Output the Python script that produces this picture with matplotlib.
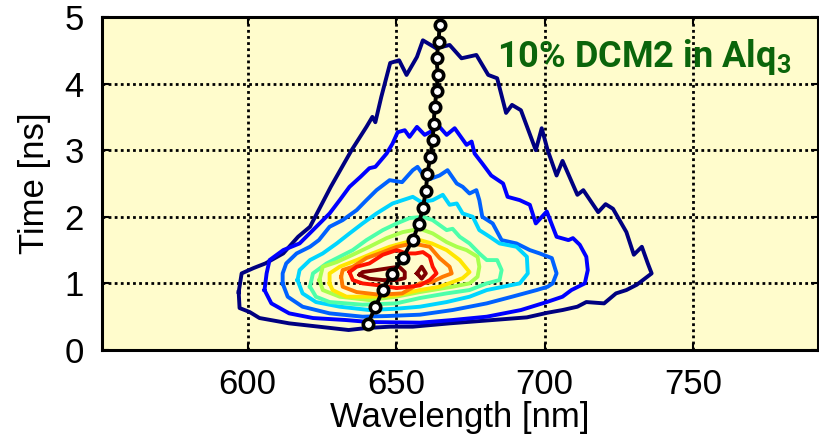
import numpy as np
import matplotlib
matplotlib.use("Agg")
import matplotlib.pyplot as plt

# contour outlines: (wavelength nm, time ns), outer -> inner
c_navy = [(597, 0.87), (598, 1.15), (602, 1.23), (606, 1.30), (612, 1.45), (617, 1.70),
          (621, 1.85), (628, 2.45), (635, 3.00), (640, 3.35), (642, 3.50), (643, 3.42),
          (645, 3.80), (648, 4.31), (651, 4.35), (653.5, 4.13), (657, 4.40), (659, 4.65),
          (663.5, 4.53), (668, 4.58), (672, 4.38), (677, 4.43), (681, 4.13), (684, 4.08),
          (687, 3.56), (689, 3.68), (692, 3.60), (697, 3.00), (699, 3.33), (701, 3.00),
          (704, 2.62), (706, 2.84), (711, 2.33), (713, 2.40), (718, 2.07), (720.5, 2.19),
          (723, 2.12), (727.5, 1.77), (730, 1.43), (732.7, 1.55), (734.7, 1.30), (736, 1.15),
          (731, 0.98), (727.5, 0.90), (724, 0.85), (720, 0.70), (714, 0.72), (711, 0.65),
          (706, 0.60), (701, 0.56), (694, 0.49), (682.5, 0.45), (668, 0.40), (655.6, 0.35),
          (648, 0.35), (640, 0.33), (634, 0.30), (624, 0.35), (614, 0.40), (604, 0.48),
          (600.7, 0.57), (597.3, 0.63)]
c_blue = [(605.7, 0.90), (606.4, 1.15), (607.4, 1.35), (612, 1.50), (617.5, 1.60), (622, 1.80),
          (627.6, 2.05), (631, 2.25), (634.3, 2.45), (638, 2.60), (641, 2.73), (643, 2.75),
          (646.8, 2.95), (648.8, 3.10), (650.5, 3.27), (652.9, 3.30), (654.5, 3.20), (657, 3.35),
          (659.6, 3.23), (664.6, 3.35), (667, 3.23), (669.7, 3.33), (673.7, 3.08), (675.4, 3.13),
          (676.4, 2.95), (679, 2.80), (682, 2.62), (686, 2.50), (687.5, 2.30), (691.6, 2.25),
          (695, 2.18), (697, 1.90), (700.7, 2.08), (704, 1.70), (708, 1.65), (709.5, 1.68),
          (711.8, 1.58), (714, 1.40), (714.5, 1.20), (713.5, 1.00), (709, 0.90), (706, 0.80),
          (700.7, 0.72), (692, 0.60), (680.5, 0.50), (669, 0.45), (658, 0.41), (641, 0.42),
          (633, 0.45), (622, 0.48), (614, 0.55), (608, 0.70)]
c_azure = [(611.8, 1.00), (611.8, 1.15), (613, 1.30), (616.5, 1.45), (621, 1.55), (624, 1.65),
           (627.6, 1.85), (632, 1.95), (636.7, 2.10), (640, 2.25), (643.4, 2.40), (647.8, 2.55),
           (652, 2.52), (655.6, 2.70), (657.2, 2.75), (660.3, 2.55), (664.6, 2.62), (667.3, 2.70),
           (670.4, 2.50), (672.4, 2.45), (674.7, 2.35), (677, 2.40), (678, 2.25), (679, 2.00),
           (682.5, 1.90), (685.5, 1.65), (690.5, 1.60), (695, 1.50), (698.3, 1.45), (702.4, 1.38),
           (704, 1.15), (702.7, 1.00), (701, 0.95), (697.3, 0.90), (689, 0.80), (680.5, 0.70),
           (669, 0.60), (658, 0.53), (647, 0.51), (638.7, 0.50), (627.6, 0.55), (618.5, 0.65),
           (613.5, 0.80)]
c_cyan = [(616.8, 1.05), (617.5, 1.20), (621, 1.35), (625.3, 1.45), (630, 1.60), (634.3, 1.75),
          (638.7, 1.90), (643.4, 2.05), (648.8, 2.20), (652.2, 2.25), (655.6, 2.30), (658.5, 2.22),
          (662.3, 2.25), (665.7, 2.33), (668, 2.18), (670.4, 2.20), (672.4, 2.05), (675.8, 2.00),
          (678, 1.80), (681.5, 1.70), (684.8, 1.60), (690.5, 1.55), (694, 1.40), (694.3, 1.15),
          (691.6, 1.00), (686, 0.95), (680.5, 0.90), (674.7, 0.80), (667, 0.72), (658, 0.65),
          (650, 0.62), (641, 0.60), (631, 0.65), (623, 0.72), (618.5, 0.85)]
c_aqua = [(621, 0.95), (622, 1.15), (626.6, 1.30), (631, 1.40), (635.4, 1.50), (640, 1.65),
          (645.5, 1.80), (650.2, 1.90), (654.5, 1.98), (659, 2.00), (662.3, 1.95), (667, 1.80),
          (669, 1.82), (671.4, 1.70), (674.7, 1.60), (678, 1.45), (680.5, 1.35), (684, 1.35),
          (685.5, 1.20), (684.8, 1.05), (680.5, 1.00), (674.7, 0.90), (667, 0.85), (658, 0.78),
          (650, 0.70), (638.7, 0.68), (627.6, 0.72), (623, 0.80)]
c_green = [(624.2, 1.05), (625.3, 1.25), (630, 1.32), (635.4, 1.43), (641, 1.55), (646.8, 1.68),
           (652.2, 1.77), (658, 1.82), (662.3, 1.75), (667, 1.62), (670.4, 1.55), (673.7, 1.50),
           (677.4, 1.40), (678, 1.25), (677.4, 1.10), (674.7, 1.00), (669, 0.95), (658, 0.87),
           (650, 0.80), (641, 0.75), (631, 0.80), (625.3, 0.90)]
c_yellow = [(627.6, 1.00), (627.6, 1.15), (631, 1.25), (636.7, 1.35), (642, 1.45), (647.8, 1.55),
            (653.5, 1.62), (658, 1.65), (662, 1.60), (667, 1.50), (671.4, 1.35), (674.7, 1.17),
            (672.4, 1.08), (669, 1.02), (664.6, 0.95), (658, 0.90), (650, 0.82), (642, 0.80),
            (633.3, 0.80), (628.6, 0.90)]
c_orange = [(631.5, 1.10), (632, 1.20), (635.4, 1.25), (640, 1.38), (644.4, 1.45), (650.2, 1.55),
            (655.6, 1.60), (661.3, 1.55), (664.6, 1.38), (668, 1.25), (668.7, 1.15), (665.7, 1.10),
            (662, 1.02), (658, 1.00), (652, 0.85), (644.4, 0.83), (636.7, 0.87), (632, 0.95)]
c_red = [(634.3, 1.17), (636.7, 1.25), (641, 1.30), (645.5, 1.43), (650.2, 1.50), (653.5, 1.45),
         (656.5, 1.45), (659, 1.47), (661.3, 1.40), (662.3, 1.25), (663.6, 1.15), (661.3, 1.05),
         (658, 0.97), (654.5, 0.95), (650.2, 0.93), (644.4, 0.97), (638.7, 1.00), (635.4, 1.05)]
c_darkred_a = [(637.7, 1.13), (638.7, 1.17), (643.4, 1.20), (647.8, 1.23), (651, 1.25),
               (652.9, 1.17), (652.9, 1.08), (650.2, 1.05), (645.5, 1.05), (641, 1.07)]
c_darkred_b = [(657, 1.15), (658.6, 1.25), (660, 1.15), (658.6, 1.07)]

levels = [[c_navy], [c_blue], [c_azure], [c_cyan], [c_aqua], [c_green],
          [c_yellow], [c_orange], [c_red], [c_darkred_a, c_darkred_b]]

# emission peak vs time
peak_t = [0.39, 0.64, 0.90, 1.14, 1.38, 1.65, 1.89, 2.13, 2.39, 2.64, 2.90, 3.15,
          3.39, 3.65, 3.89, 4.13, 4.38, 4.62, 4.88, 5.13]
peak_wl = [640.4, 643.0, 645.5, 648.6, 652.2, 655.6, 657.6, 659.0, 660.0, 660.5, 661.5, 662.3,
           662.6, 663.0, 663.6, 664.0, 663.6, 664.3, 664.6, 665.0]

plt.rcParams['font.family'] = ['Liberation Sans', 'DejaVu Sans']
plt.rcParams['mathtext.fontset'] = 'custom'
plt.rcParams['mathtext.bf'] = 'Roboto:bold'

fig = plt.figure(figsize=(8.2, 4.45), dpi=100)
ax = fig.add_axes([0.1244, 0.2135, 0.8732, 0.7483])
ax.set_facecolor('#fffccc')

cols = plt.cm.jet(np.linspace(0, 1, len(levels)))
for col, polys in zip(cols, levels):
    for poly in polys:
        xs = [p[0] for p in poly] + [poly[0][0]]
        ys = [p[1] for p in poly] + [poly[0][1]]
        ax.plot(xs, ys, color=col, lw=2.8, solid_joinstyle='round', zorder=2)

ax.plot(peak_wl, peak_t, '-o', color='black', lw=2.8, ms=7.5, mfc='white',
        mec='black', mew=2.6, zorder=3)

ax.text(684, 4.25, r'10% DCM2 in Alq$_\mathbf{3}$', color='#0b650b', fontsize=26,
        fontweight='bold', family='Roboto', zorder=4)

ax.set_xlim(551, 792)
ax.set_ylim(0, 5)
ax.set_xticks([600, 650, 700, 750])
ax.set_yticks([0, 1, 2, 3, 4, 5])
ax.grid(True, color='black', linestyle=(0, (1, 1.2)), lw=2.0)
ax.set_axisbelow(True)
ax.tick_params(direction='in', length=5, width=1.5, top=True, right=True,
               labelsize=25, pad=13)
for s in ax.spines.values():
    s.set_linewidth(2.2)

ax.set_xlabel('Wavelength [nm]', fontsize=25, labelpad=0)
ax.set_ylabel('Time [ns]', fontsize=25, labelpad=10)

fig.savefig('out.png', dpi=100)
